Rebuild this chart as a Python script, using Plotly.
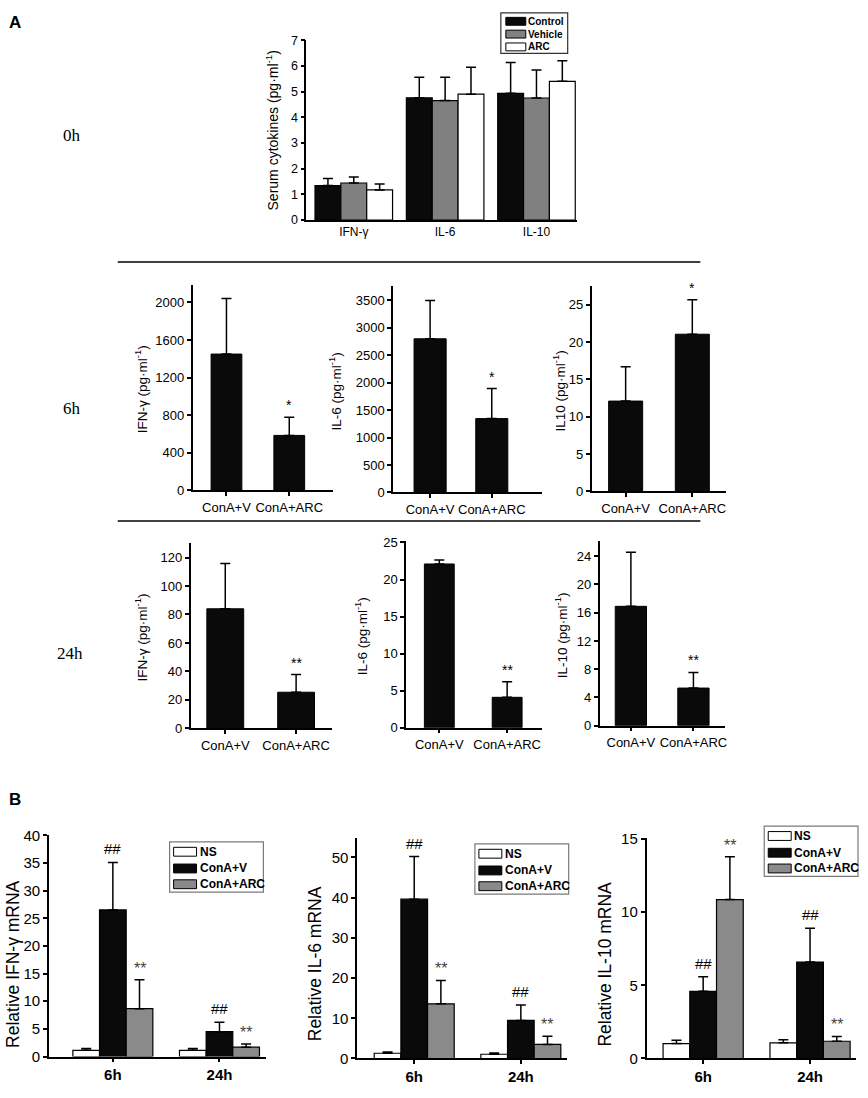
import plotly.graph_objects as go

W, H = 868, 1098
SANS = "Liberation Sans, Arial, sans-serif"
SERIF = "Liberation Serif, Times New Roman, serif"

# ---------------- data ----------------
# A, 0h: serum cytokines, three groups
cytokines = ["IFN-γ", "IL-6", "IL-10"]
control_0h = [1.34, 4.76, 4.93]
control_0h_sd = [0.28, 0.80, 1.20]
vehicle_0h = [1.44, 4.65, 4.75]
vehicle_0h_sd = [0.23, 0.91, 1.09]
arc_0h = [1.17, 4.90, 5.40]
arc_0h_sd = [0.23, 1.05, 0.80]
groups_0h = ["Control", "Vehicle", "ARC"]
colors_0h = ["#0a0a0a", "#808080", "white"]

# A, 6h / 24h: ConA+V vs ConA+ARC
conditions = ["ConA+V", "ConA+ARC"]
ifn_6h = [1450, 585]
ifn_6h_sd = [590, 193]
il6_6h = [2800, 1345]
il6_6h_sd = [700, 549]
il10_6h = [12.1, 21.06]
il10_6h_sd = [4.6, 4.6]
marks_6h = ["", "*"]

ifn_24h = [84, 25.4]
ifn_24h_sd = [31.8, 12.4]
il6_24h = [22.1, 4.1]
il6_24h_sd = [0.55, 2.1]
il10_24h = [16.9, 5.33]
il10_24h_sd = [7.66, 2.22]
marks_24h = ["", "**"]

# B: relative mRNA
times = ["6h", "24h"]
treatments = ["NS", "ConA+V", "ConA+ARC"]
colors_b = ["white", "#0a0a0a", "#8a8a8a"]
ifn_ns = [1.13, 1.13]
ifn_ns_sd = [0.3, 0.3]
ifn_v = [26.5, 4.5]
ifn_v_sd = [8.6, 1.7]
ifn_arc = [8.66, 1.7]
ifn_arc_sd = [5.24, 0.56]
il6_ns = [1.3, 1.06]
il6_ns_sd = [0.3, 0.3]
il6_v = [39.6, 9.46]
il6_v_sd = [10.6, 3.84]
il6_arc = [13.6, 3.5]
il6_arc_sd = [5.8, 2.0]
il10_ns = [1.02, 1.07]
il10_ns_sd = [0.23, 0.22]
il10_v = [4.59, 6.6]
il10_v_sd = [1.0, 2.3]
il10_arc = [10.87, 1.18]
il10_arc_sd = [2.93, 0.33]
marks_v = ["##", "##"]
marks_arc = ["**", "**"]


def fx(p):
    return p / W


def fy(p):
    return 1 - p / H


fig = go.Figure()
annotations = []
shapes = []
layout = {}


def add_axes(i, left, right, top, bottom, xrange, yrange, dtick, ticktext,
             xticks="outside", tickfont=12, xfont=12, xbold=False):
    xa = "xaxis" if i == 1 else "xaxis%d" % i
    ya = "yaxis" if i == 1 else "yaxis%d" % i
    common = dict(showline=True, linecolor="black", linewidth=1.5, showgrid=False,
                  zeroline=False, tickcolor="black", tickwidth=1.5, ticklen=4,
                  fixedrange=True)
    layout[xa] = dict(common, domain=[fx(left), fx(right)], range=xrange,
                      anchor="y" if i == 1 else "y%d" % i,
                      tickmode="array", tickvals=list(range(len(ticktext))),
                      ticktext=ticktext, ticks=xticks, tickangle=0,
                      tickfont=dict(family=SANS, size=xfont, color="black",
                                    weight="bold" if xbold else "normal"))
    layout[ya] = dict(common, domain=[fy(bottom), fy(top)], range=yrange,
                      anchor="x" if i == 1 else "x%d" % i, dtick=dtick,
                      ticks="outside",
                      tickfont=dict(family=SANS, size=tickfont, color="black"))
    return ("x" if i == 1 else "x%d" % i), ("y" if i == 1 else "y%d" % i)


def text_at(text, xpix, ypix, size, family=SANS, angle=0, bold=False, anchor="center"):
    annotations.append(dict(text=text, x=fx(xpix), y=fy(ypix), xref="paper", yref="paper",
                            xanchor=anchor, yanchor="middle", textangle=angle,
                            showarrow=False,
                            font=dict(family=family, size=size, color="black",
                                      weight="bold" if bold else "normal")))


def mark(text, xref, yref, x, y, size=14, color="black", shift=2):
    if not text:
        return
    annotations.append(dict(text=text, x=x, y=y, xref=xref, yref=yref, xanchor="center",
                            yanchor="bottom", showarrow=False, yshift=shift,
                            font=dict(family=SANS, size=size, color=color)))


def err(sd, width=5):
    return dict(type="data", array=sd, arrayminus=[0] * len(sd), symmetric=False,
                color="black", thickness=1.5, width=width)


def legend_box(names, colors, left, top, width, height, rows, sw, sh, sx, tx, size, border):
    shapes.append(dict(type="rect", xref="paper", yref="paper", x0=fx(left), x1=fx(left + width),
                       y0=fy(top + height), y1=fy(top), line=dict(color=border, width=1.2),
                       fillcolor="white", layer="above"))
    for name, col, r in zip(names, colors, rows):
        yc = top + r
        shapes.append(dict(type="rect", xref="paper", yref="paper",
                           x0=fx(left + sx), x1=fx(left + sx + sw),
                           y0=fy(yc + sh / 2), y1=fy(yc - sh / 2),
                           line=dict(color="black", width=1), fillcolor=col, layer="above"))
        text_at(name, left + tx, yc, size, bold=True, anchor="left")


# ---------------- A, 0h ----------------
xr, yr = add_axes(1, 307, 578, 31.7, 214.3, [-0.52, 2.44], [0, 7], 1, cytokines,
                  xticks="", tickfont=12.5)
w0 = 0.283
for k, (vals, sd) in enumerate([(control_0h, control_0h_sd), (vehicle_0h, vehicle_0h_sd),
                                (arc_0h, arc_0h_sd)]):
    fig.add_trace(go.Bar(x=list(range(len(cytokines))), y=vals, name=groups_0h[k], width=w0,
                         offset=-1.5 * w0 + k * w0,
                         marker=dict(color=colors_0h[k], line=dict(color="black", width=1.2)),
                         error_y=err(sd), xaxis=xr, yaxis=yr, showlegend=False))
text_at("Serum cytokines (pg·ml<sup>-1</sup>)", 273, 123, 14, angle=-90)
legend_box(groups_0h, colors_0h, 502, 4, 67, 41, [8.5, 21.5, 34.5], 20, 8, 5, 25, 10, "#333")

# ---------------- A, 6h and 24h ----------------
single = [
    # idx, left, right, top, bottom, xrange, ymax, dtick, vals, sd, marks, title, title_x, bw
    (2, 193, 334, 280, 489, [-0.54, 1.70], 2188, 400, ifn_6h, ifn_6h_sd, marks_6h,
     "IFN-γ (pg·ml<sup>-1</sup>)", 141, 0.49),
    (3, 394, 543, 281.5, 491, [-0.60, 1.81], 3760, 500, il6_6h, il6_6h_sd, marks_6h,
     "IL-6 (pg·ml<sup>-1</sup>)", 336, 0.52),
    (4, 593, 728, 281.5, 490, [-0.51, 1.51], 27.5, 5, il10_6h, il10_6h_sd, marks_6h,
     "IL10 (pg·ml<sup>-1</sup>)", 560, 0.51),
    (5, 191, 333, 542.7, 730.7, [-0.49, 1.51], 130, 20, ifn_24h, ifn_24h_sd, marks_24h,
     "IFN-γ (pg·ml<sup>-1</sup>)", 141, 0.52),
    (6, 407, 543, 540, 730, [-0.49, 1.51], 25.25, 5, il6_24h, il6_24h_sd, marks_24h,
     "IL-6 (pg·ml<sup>-1</sup>)", 362, 0.44),
    (7, 601, 727, 540.7, 728, [-0.50, 1.51], 26.1, 4, il10_24h, il10_24h_sd, marks_24h,
     "IL-10 (pg·ml<sup>-1</sup>)", 563, 0.50),
]
for (i, l, r, t, b, xrg, ymax, dt, vals, sd, mk, title, tx, bw) in single:
    xr, yr = add_axes(i, l, r, t, b, xrg, [0, ymax], dt, conditions, tickfont=13, xfont=13)
    fig.add_trace(go.Bar(x=list(range(len(conditions))), y=vals, width=bw,
                         marker=dict(color="#0a0a0a", line=dict(color="black", width=1)),
                         error_y=err(sd), xaxis=xr, yaxis=yr, showlegend=False))
    for j in range(len(vals)):
        mark(mk[j], xr, yr, j, vals[j] + sd[j], size=14, color="black")
    text_at(title, tx, (t + b) / 2 + 2, 13.5, angle=-90)

# ---------------- B ----------------
mrna = [
    (8, 49, 267, 839.3, 1064, [-0.60, 1.44], 40, 5,
     [ifn_ns, ifn_v, ifn_arc], [ifn_ns_sd, ifn_v_sd, ifn_arc_sd],
     "Relative IFN-γ mRNA", 13, 170, 846),
    (9, 358, 568, 841.7, 1066, [-0.535, 1.43], 54.9, 10,
     [il6_ns, il6_v, il6_arc], [il6_ns_sd, il6_v_sd, il6_arc_sd],
     "Relative IL-6 mRNA", 316, 476, 848),
    (10, 648, 858, 841.7, 1066, [-0.53, 1.43], 15.1, 5,
     [il10_ns, il10_v, il10_arc], [il10_ns_sd, il10_v_sd, il10_arc_sd],
     "Relative IL-10 mRNA", 606, 766, 830),
]
wb = 0.25
for (i, l, r, t, b, xrg, ymax, dt, series, sds, title, tx, lx, ly) in mrna:
    xr, yr = add_axes(i, l, r, t, b, xrg, [0, ymax], dt, times, tickfont=15, xfont=15,
                      xbold=True)
    for k in range(3):
        fig.add_trace(go.Bar(x=list(range(len(times))), y=series[k], name=treatments[k],
                             width=wb, offset=-1.5 * wb + k * wb,
                             marker=dict(color=colors_b[k], line=dict(color="black", width=1.2)),
                             error_y=err(sds[k], 5), xaxis=xr, yaxis=yr, showlegend=False))
    for j in range(len(times)):
        mark(marks_v[j], xr, yr, j, series[1][j] + sds[1][j], size=15, color="black", shift=3)
        mark(marks_arc[j], xr, yr, j + wb, series[2][j] + sds[2][j], size=16, color="#444", shift=1)
    text_at(title, tx, 970, 17.5, angle=-90)
    legend_box(treatments, colors_b, lx, ly, 94, 51, [10, 27, 43], 23, 9, 4, 28, 12, "#7a7a7a")

# panel letters and time labels
text_at("A", 15, 14, 17, bold=True)
text_at("B", 15, 803, 17, bold=True)
for txt, x, y in [("0h", 72, 128), ("6h", 72, 406), ("24h", 70, 655)]:
    text_at(txt, x, y, 17, family=SERIF)

for yy in (257, 520):
    shapes.append(dict(type="line", xref="paper", yref="paper", x0=fx(118), x1=fx(702),
                       y0=fy(yy), y1=fy(yy), line=dict(color="black", width=1.6)))

fig.update_layout(width=W, height=H, margin=dict(l=0, r=0, t=0, b=0),
                  paper_bgcolor="white", plot_bgcolor="white", barmode="overlay",
                  showlegend=False, annotations=annotations, shapes=shapes, **layout)

fig.write_html("out.html", config={"displayModeBar": False},
               post_script="document.body.style.margin='0';")
